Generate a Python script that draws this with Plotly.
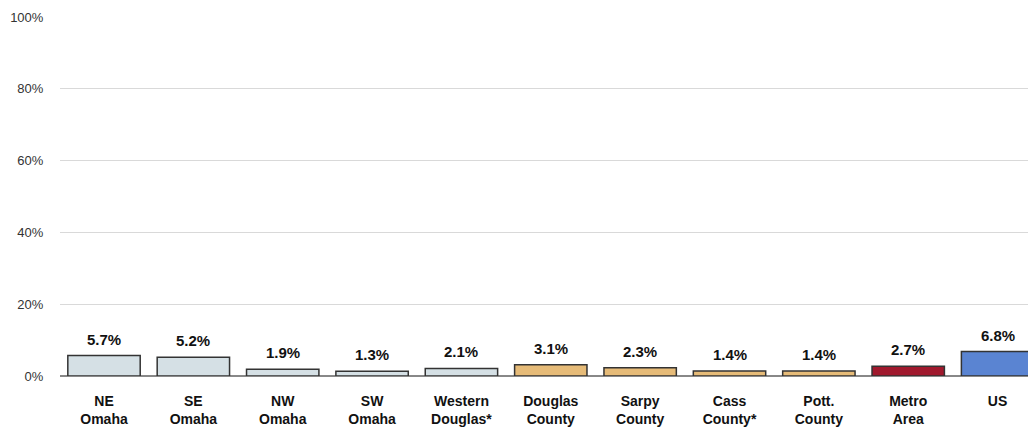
import plotly.graph_objects as go

categories = ["NE<br>Omaha", "SE<br>Omaha", "NW<br>Omaha", "SW<br>Omaha", "Western<br>Douglas*",
              "Douglas<br>County", "Sarpy<br>County", "Cass<br>County*", "Pott.<br>County",
              "Metro<br>Area", "US"]
values = [5.7, 5.2, 1.9, 1.3, 2.1, 3.1, 2.3, 1.4, 1.4, 2.7, 6.8]
colors = ["#D5E0E5"] * 5 + ["#E6BB78"] * 4 + ["#A0192D", "#5A84D2"]
tick_vals = [0, 20, 40, 60, 80, 100]
tick_text = ["0%", "20%", "40%", "60%", "80%", "100%"]

FONT = "Liberation Sans, Arial"

fig = go.Figure(go.Bar(
    x=categories, y=values,
    marker=dict(color=colors, line=dict(color="#333333", width=1.5)),
))
for c, v in zip(categories, values):
    fig.add_annotation(x=c, y=v, text=f"<b>{v:.1f}%</b>", showarrow=False,
                       yanchor="bottom", yshift=6,
                       font=dict(family=FONT, size=15, color="#111111"))

fig.update_layout(
    width=1028, height=422,
    margin=dict(l=52, r=0, t=9, b=54),
    plot_bgcolor="white", paper_bgcolor="white",
    bargap=0.19, showlegend=False,
    font=dict(family=FONT, color="#222222"),
)
fig.update_xaxes(
    tickfont=dict(size=14, family=FONT, color="#111111"),
    tickvals=categories, ticktext=[f"<b>{c}</b>" for c in categories],
    showgrid=False, ticks="outside", ticklen=12, tickcolor="rgba(0,0,0,0)",
    showline=False, zeroline=False, automargin=False,
    range=[-0.4925, 10.43],
)
fig.update_yaxes(
    range=[0, 100], tickvals=tick_vals, ticktext=tick_text,
    tickfont=dict(size=13, family=FONT, color="#333333"),
    showgrid=True, gridcolor="#D9D9D9", gridwidth=1,
    zeroline=True, zerolinecolor="#888888", zerolinewidth=1.5,
    ticks="outside", ticklen=13, tickcolor="rgba(0,0,0,0)", automargin=False,
)
fig.write_html("out.html")
